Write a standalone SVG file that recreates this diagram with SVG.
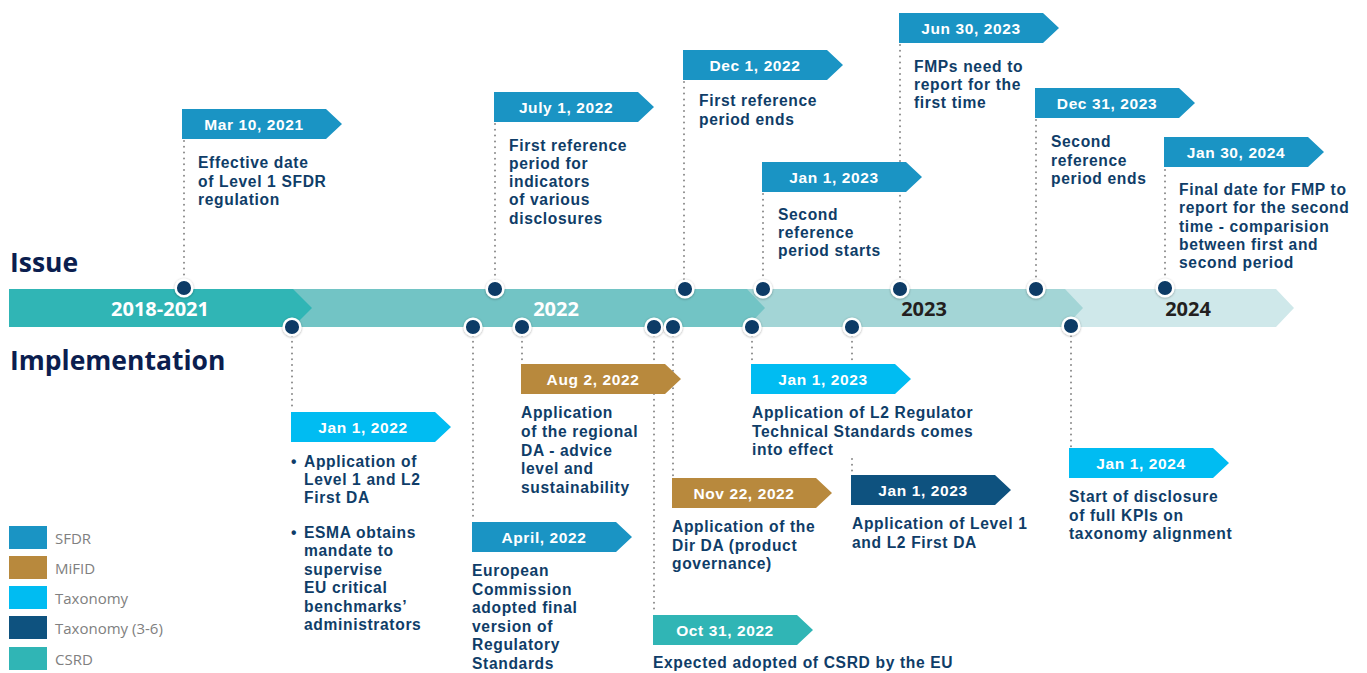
<svg xmlns="http://www.w3.org/2000/svg" xmlns:xlink="http://www.w3.org/1999/xlink" width="1367" height="673" viewBox="0 0 1367 673">
<style>
.sfdr{fill:#1A94C4}
.mifid{fill:#B8893D}
.tax{fill:#00BCF2}
.tax36{fill:#0E527F}
.csrd{fill:#30B5B5}
.tagt{font-family:"Liberation Sans",Arial,sans-serif;font-weight:700;font-size:15.5px;letter-spacing:0.6px;fill:#fff;text-anchor:middle}
.desc{font-family:"Liberation Sans",Arial,sans-serif;font-weight:700;font-size:15.6px;letter-spacing:0.65px;fill:#0F3D68}
.head{font-family:"Open Sans","Liberation Sans",sans-serif;font-weight:700;font-size:26.5px;fill:#0B1E4F}
.year{font-family:"Open Sans","Liberation Sans",sans-serif;font-weight:700;font-size:20px;text-anchor:middle}
.leg{font-family:"Open Sans","Liberation Sans",sans-serif;font-weight:400;font-size:15px;fill:#808080}
.conn line{stroke:#8A8A8A;stroke-width:2;stroke-dasharray:0 5.8;stroke-linecap:round}
.dot{fill:#0B3B66;stroke:#fff;stroke-width:2.5;filter:url(#sh)}
</style>
<defs>
<filter id="sh" x="-50%" y="-50%" width="200%" height="200%"><feDropShadow dx="0" dy="0.6" stdDeviation="1.2" flood-color="#000" flood-opacity="0.35"/></filter>
<path id="tag" d="M0 0H144V30H0Z M144 0L160 15L144 30Z"/>
</defs>

<g id="headings">
<text class="head" x="10" y="272">Issue</text>
<text class="head" x="10" y="370">Implementation</text>
</g>

<g id="timeline">
<polygon points="1060,289 1276,289 1294,308 1276,327 1060,327" fill="#CFE8EA"/>
<polygon points="745,289 1065,289 1083,308 1065,327 745,327" fill="#A3D5D6"/>
<polygon points="290,289 747,289 765,308 747,327 290,327" fill="#72C4C5"/>
<polygon points="9,289 293,289 312,308 293,327 9,327" fill="#30B5B5"/>
<text class="year" x="160" y="315.5" fill="#fff">2018-2021</text>
<text class="year" x="556" y="315.5" fill="#fff">2022</text>
<text class="year" x="924" y="315.5" fill="#231F20">2023</text>
<text class="year" x="1188" y="315.5" fill="#231F20">2024</text>
</g>

<g id="connectors" class="conn">
<line x1="184" y1="141" x2="184" y2="280"/>
<line x1="495" y1="124" x2="495" y2="281"/>
<line x1="684" y1="82" x2="684" y2="281"/>
<line x1="763" y1="194" x2="763" y2="281"/>
<line x1="900" y1="45" x2="900" y2="281"/>
<line x1="1036" y1="120" x2="1036" y2="281"/>
<line x1="1165" y1="170" x2="1165" y2="280"/>
<line x1="292" y1="336" x2="292" y2="411"/>
<line x1="473" y1="336" x2="473" y2="521"/>
<line x1="522" y1="336" x2="522" y2="363"/>
<line x1="654" y1="336" x2="654" y2="614"/>
<line x1="673" y1="336" x2="673" y2="477"/>
<line x1="752" y1="336" x2="752" y2="363"/>
<line x1="852" y1="336" x2="852" y2="362"/>
<line x1="852" y1="459" x2="852" y2="474"/>
<line x1="1071" y1="336" x2="1071" y2="447"/>
</g>

<g id="dots">
<circle class="dot" cx="184" cy="288" r="8.3"/>
<circle class="dot" cx="495" cy="289" r="8.3"/>
<circle class="dot" cx="685" cy="289" r="8.3"/>
<circle class="dot" cx="763" cy="289" r="8.3"/>
<circle class="dot" cx="900" cy="289" r="8.3"/>
<circle class="dot" cx="1036" cy="289" r="8.3"/>
<circle class="dot" cx="1165" cy="288" r="8.3"/>
<circle class="dot" cx="292" cy="327" r="8.3"/>
<circle class="dot" cx="473" cy="327" r="8.3"/>
<circle class="dot" cx="522" cy="327" r="8.3"/>
<circle class="dot" cx="654" cy="327" r="8.3"/>
<circle class="dot" cx="673" cy="327" r="8.3"/>
<circle class="dot" cx="752" cy="327" r="8.3"/>
<circle class="dot" cx="852" cy="327" r="8.3"/>
<circle class="dot" cx="1071" cy="326" r="8.3"/>
</g>

<g id="n-mar10-2021">
<use xlink:href="#tag" x="182" y="109" class="sfdr"/>
<text class="tagt" x="254" y="130">Mar 10, 2021</text>
<text class="desc"><tspan x="198" y="168">Effective date</tspan><tspan x="198" y="186.5">of Level 1 SFDR</tspan><tspan x="198" y="205">regulation</tspan></text>
</g>

<g id="n-jul1-2022">
<use xlink:href="#tag" x="494" y="92" class="sfdr"/>
<text class="tagt" x="566" y="113">July 1, 2022</text>
<text class="desc"><tspan x="509" y="150.5">First reference</tspan><tspan x="509" y="168.8">period for</tspan><tspan x="509" y="187.1">indicators</tspan><tspan x="509" y="205.4">of various</tspan><tspan x="509" y="223.7">disclosures</tspan></text>
</g>

<g id="n-dec1-2022">
<use xlink:href="#tag" x="683" y="50" class="sfdr"/>
<text class="tagt" x="755" y="71">Dec 1, 2022</text>
<text class="desc"><tspan x="699" y="106">First reference</tspan><tspan x="699" y="124.5">period ends</tspan></text>
</g>

<g id="n-jan1-2023-sfdr">
<use xlink:href="#tag" x="762" y="162" class="sfdr"/>
<text class="tagt" x="834" y="183">Jan 1, 2023</text>
<text class="desc"><tspan x="778" y="220">Second</tspan><tspan x="778" y="238.2">reference</tspan><tspan x="778" y="256.4">period starts</tspan></text>
</g>

<g id="n-jun30-2023">
<use xlink:href="#tag" x="899" y="13" class="sfdr"/>
<text class="tagt" x="971" y="34">Jun 30, 2023</text>
<text class="desc"><tspan x="914" y="72">FMPs need to</tspan><tspan x="914" y="90.2">report for the</tspan><tspan x="914" y="108.4">first time</tspan></text>
</g>

<g id="n-dec31-2023">
<use xlink:href="#tag" x="1035" y="88" class="sfdr"/>
<text class="tagt" x="1107" y="109">Dec 31, 2023</text>
<text class="desc"><tspan x="1051" y="147">Second</tspan><tspan x="1051" y="165.5">reference</tspan><tspan x="1051" y="184">period ends</tspan></text>
</g>

<g id="n-jan30-2024">
<use xlink:href="#tag" x="1164" y="137" class="sfdr"/>
<text class="tagt" x="1236" y="158">Jan 30, 2024</text>
<text class="desc"><tspan x="1179" y="195">Final date for FMP to</tspan><tspan x="1179" y="213.3">report for the second</tspan><tspan x="1179" y="231.6">time - comparision</tspan><tspan x="1179" y="250">between first and</tspan><tspan x="1179" y="268.3">second period</tspan></text>
</g>

<g id="n-jan1-2022-tax">
<use xlink:href="#tag" x="291" y="412" class="tax"/>
<text class="tagt" x="363" y="433">Jan 1, 2022</text>
<text class="desc"><tspan x="291" y="466.5">•</tspan><tspan x="304" y="466.5">Application of</tspan><tspan x="304" y="484.5">Level 1 and L2</tspan><tspan x="304" y="502.5">First DA</tspan><tspan x="291" y="537.5">•</tspan><tspan x="304" y="537.5">ESMA obtains</tspan><tspan x="304" y="556">mandate to</tspan><tspan x="304" y="574.5">supervise</tspan><tspan x="304" y="593">EU critical</tspan><tspan x="304" y="611.5">benchmarks’</tspan><tspan x="304" y="630">administrators</tspan></text>
</g>

<g id="n-apr-2022">
<use xlink:href="#tag" x="472" y="522" class="sfdr"/>
<text class="tagt" x="544" y="543">April, 2022</text>
<text class="desc"><tspan x="472" y="576">European</tspan><tspan x="472" y="594.6">Commission</tspan><tspan x="472" y="613.2">adopted final</tspan><tspan x="472" y="631.8">version of</tspan><tspan x="472" y="650.4">Regulatory</tspan><tspan x="472" y="669">Standards</tspan></text>
</g>

<g id="n-aug2-2022">
<use xlink:href="#tag" x="521" y="364" class="mifid"/>
<text class="tagt" x="593" y="385">Aug 2, 2022</text>
<text class="desc"><tspan x="521" y="418">Application</tspan><tspan x="521" y="436.8">of the regional</tspan><tspan x="521" y="455.5">DA - advice</tspan><tspan x="521" y="474.3">level and</tspan><tspan x="521" y="493">sustainability</tspan></text>
</g>

<g id="n-oct31-2022">
<use xlink:href="#tag" x="653" y="615" class="csrd"/>
<text class="tagt" x="725" y="636">Oct 31, 2022</text>
<text class="desc" x="653" y="668">Expected adopted of CSRD by the EU</text>
</g>

<g id="n-nov22-2022">
<use xlink:href="#tag" x="672" y="478" class="mifid"/>
<text class="tagt" x="744" y="499">Nov 22, 2022</text>
<text class="desc"><tspan x="672" y="532">Application of the</tspan><tspan x="672" y="550.5">Dir DA (product</tspan><tspan x="672" y="569">governance)</tspan></text>
</g>

<g id="n-jan1-2023-tax">
<use xlink:href="#tag" x="751" y="364" class="tax"/>
<text class="tagt" x="823" y="385">Jan 1, 2023</text>
<text class="desc"><tspan x="752" y="418">Application of L2 Regulator</tspan><tspan x="752" y="436.5">Technical Standards comes</tspan><tspan x="752" y="455">into effect</tspan></text>
</g>

<g id="n-jan1-2023-tax36">
<use xlink:href="#tag" x="851" y="475" class="tax36"/>
<text class="tagt" x="923" y="496">Jan 1, 2023</text>
<text class="desc"><tspan x="852" y="529">Application of Level 1</tspan><tspan x="852" y="547.5">and L2 First DA</tspan></text>
</g>

<g id="n-jan1-2024-tax">
<use xlink:href="#tag" x="1069" y="448" class="tax"/>
<text class="tagt" x="1141" y="469">Jan 1, 2024</text>
<text class="desc"><tspan x="1069" y="502">Start of disclosure</tspan><tspan x="1069" y="520.5">of full KPIs on</tspan><tspan x="1069" y="539">taxonomy alignment</tspan></text>
</g>

<g id="legend">
<rect class="sfdr" x="9" y="526" width="38" height="23"/>
<text class="leg" x="55" y="544">SFDR</text>
<rect class="mifid" x="9" y="556" width="38" height="23"/>
<text class="leg" x="55" y="574">MiFID</text>
<rect class="tax" x="9" y="586" width="38" height="23"/>
<text class="leg" x="55" y="604">Taxonomy</text>
<rect class="tax36" x="9" y="616" width="38" height="23"/>
<text class="leg" x="55" y="634">Taxonomy (3-6)</text>
<rect class="csrd" x="9" y="647" width="38" height="23"/>
<text class="leg" x="55" y="665">CSRD</text>
</g>
</svg>
